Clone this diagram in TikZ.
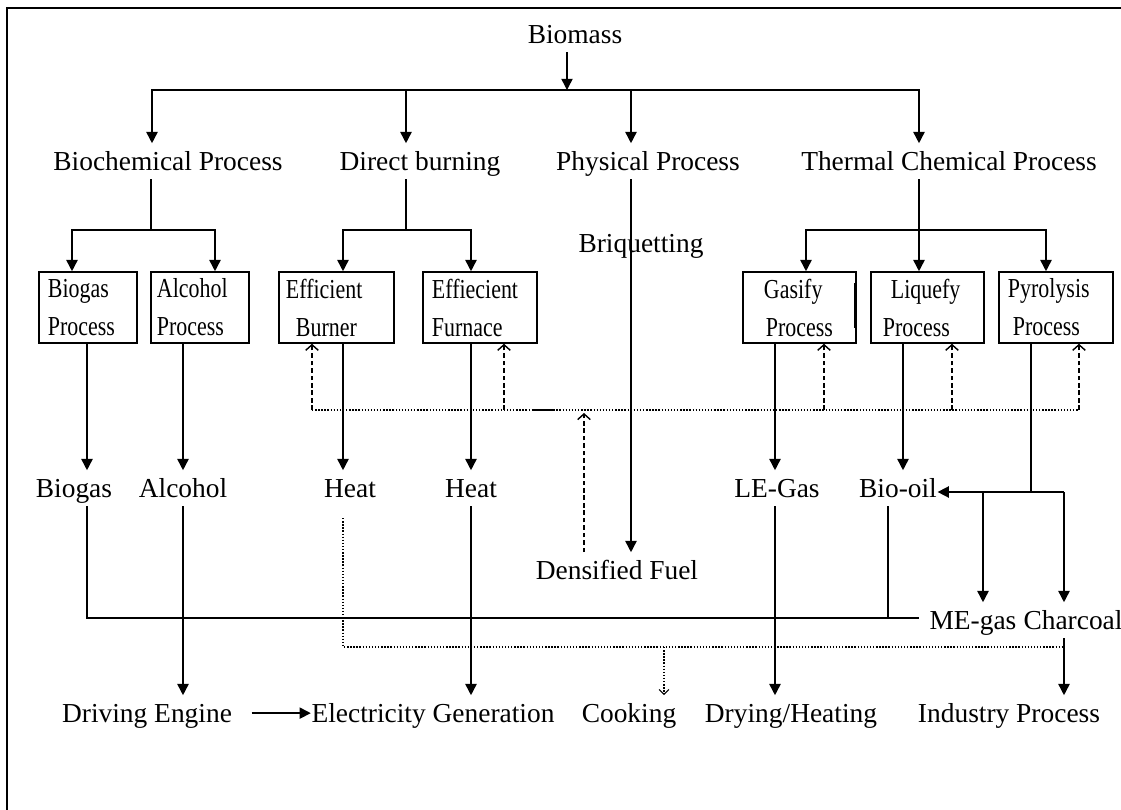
\documentclass[tikz,border=0pt]{standalone}
\usepackage{fontspec}
\setmainfont{Liberation Serif}
\newfontfamily\narrowfont[FakeStretch=0.8]{Liberation Serif}
\usetikzlibrary{arrows.meta}

\begin{document}
\begin{tikzpicture}[x=0.025cm,y=-0.025cm,
	font=\fontsize{19.5}{27}\selectfont,
	>={Triangle[width=8pt,length=8pt]},
	line width=1.1pt,
	lbl/.style={inner sep=0pt,anchor=base,text height=18.5pt,text depth=5.9pt},
	procbox/.style={draw,inner sep=0pt,minimum height=1.775cm,align=left,
		font=\narrowfont\fontsize{19.5}{27}\selectfont},
	dotline/.style={line width=1pt,dash pattern=on 1pt off 1.2pt},
	feedback/.style={-{Straight Barb[width=9pt,length=4pt,line width=1pt]},
		line width=2pt,dash pattern=on 3.3pt off 2pt}]
\useasboundingbox (0,0) rectangle (1121,810);
% frame
\draw[line width=1.3pt] (7,810) -- (7,8) -- (1121,8);
%========================================
% TOP: Biomass and the four routes
%========================================
\node[lbl] (biomass) at (575,43) {Biomass};
\node[lbl] (biochem) at (168,170) {Biochemical Process};
\node[lbl] (direct) at (420,170) {Direct burning};
\node[lbl] (physical) at (648,170) {Physical Process};
\node[lbl] (thermal) at (949,170) {Thermal Chemical Process};
\node[lbl] (briq) at (641,252) {Briquetting};
\coordinate (trunk) at (567,90);
\draw[->] (biomass.south -| trunk) -- (trunk);
\foreach \n/\x in {biochem/152,direct/406,physical/631,thermal/919}
	\draw[->] (trunk) -| (\n.north -| \x,0);
%========================================
% MIDDLE: process boxes
%========================================
\node[procbox,text width=2.45cm] (biogasp) at (88,307.5)
	{\hspace*{0.225cm}Biogas\\\hspace*{0.225cm}Process};
\node[procbox,text width=2.45cm] (alcoholp) at (200,307.5)
	{\hspace*{0.15cm}Alcohol\\\hspace*{0.15cm}Process};
\node[procbox,text width=2.875cm] (burner) at (336.5,307.5)
	{\hspace*{0.175cm}Efficient\\\hspace*{0.425cm}Burner};
\node[procbox,text width=2.85cm] (furnace) at (480,307.5)
	{\hspace*{0.225cm}Effiecient\\\hspace*{0.225cm}Furnace};
\node[procbox,text width=2.825cm] (gasify) at (799.5,307.5)
	{\hspace*{0.525cm}Gasify\\\hspace*{0.575cm}Process};
\node[procbox,text width=2.825cm] (liquefy) at (927.5,307.5)
	{\hspace*{0.5cm}Liquefy\\\hspace*{0.3cm}Process};
\node[procbox,text width=2.85cm] (pyrolysis) at (1056,307.5)
	{\hspace*{0.225cm}Pyrolysis\\\hspace*{0.35cm}Process};
\draw[line width=1.4pt] (855,283) -- (855,328);
% branches
\coordinate (bj) at (151,230);
\coordinate (dj) at (406,230);
\coordinate (tj) at (919,230);
\draw (biochem.south -| bj) -- (bj);
\draw[->] (bj) -| (biogasp.north -| 72,0);
\draw[->] (bj) -| (alcoholp.north -| 215,0);
\draw (direct.south -| dj) -- (dj);
\draw[->] (dj) -| (burner.north -| 343,0);
\draw[->] (dj) -| (furnace.north -| 471,0);
\draw[->] (thermal.south -| tj) -- (liquefy.north -| tj);
\draw[->] (tj) -| (gasify.north -| 806,0);
\draw[->] (tj) -| (pyrolysis.north -| 1046,0);
%========================================
% PRODUCTS
%========================================
\node[lbl] (biogas) at (74,497) {Biogas};
\node[lbl] (alcohol) at (183,497) {Alcohol};
\node[lbl] (heata) at (350,497) {Heat};
\node[lbl] (heatb) at (471,497) {Heat};
\node[lbl] (legas) at (777,497) {LE-Gas};
\node[lbl] (biooil) at (898,497) {Bio-oil};
\node[lbl] (densified) at (617,579) {Densified Fuel};
\node[lbl] (megas) at (973,629) {ME-gas};
\node[lbl] (charcoal) at (1073,629) {Charcoal};
\foreach \a/\b/\x in {biogasp/biogas/87,alcoholp/alcohol/183,burner/heata/343,
	furnace/heatb/471,gasify/legas/775,liquefy/biooil/903}
	\draw[->] (\a.south -| \x,0) -- (\b.north -| \x,0);
\draw[->] (physical.south -| 631,0) -- (densified.north -| 631,0);
% pyrolysis outputs
\coordinate (pj) at (1031,492);
\coordinate (cj) at (1064,492);
\draw (pyrolysis.south -| pj) -- (pj);
\draw[->] (cj) -- (biooil.east |- cj);
\draw[->] (983,492) -- (megas.north -| 983,0);
\draw[->] (cj) -- (charcoal.north -| cj);
% feedback loop (dotted)
\draw[dotline] (312,410) -- (1079,410);
\draw[line width=1pt] (533,410) -- (553,410);
\foreach \n/\x in {burner/312,furnace/504,gasify/824,liquefy/952,pyrolysis/1079}
	\draw[feedback] (\x,410) -- (\n.south -| \x,0);
\draw[feedback] (densified.north -| 584,0) -- (584,413);
%========================================
% BOTTOM: uses
%========================================
\node[lbl] (driving) at (147,722) {Driving Engine};
\node[lbl] (elec) at (433,722) {Electricity Generation};
\node[lbl] (cooking) at (629,722) {Cooking};
\node[lbl] (drying) at (791,722) {Drying/Heating};
\node[lbl] (industry) at (1009,722) {Industry Process};
\draw (biogas.south -| 87,0) |- (919,618);
\draw (biooil.south -| 888,0) -- (888,618);
\draw[->] (alcohol.south) -- (driving.north -| alcohol);
\draw[->] (heatb.south) -- (elec.north -| heatb);
\draw[->] (legas.south -| 775,0) -- (drying.north -| 775,0);
\draw[->] (charcoal.south -| cj) -- (industry.north -| cj);
\draw[->,shorten <=0.475cm] (driving.east) -- (elec.west);
\draw[dotline] ([yshift=-0.3cm]heata.south -| 343,0) |- (1064,647);
\draw[dotline,-{Straight Barb[width=7pt,length=3.5pt,line width=0.8pt]}]
	(664,647) -- (cooking.north -| 664,0);
\end{tikzpicture}
\end{document}
